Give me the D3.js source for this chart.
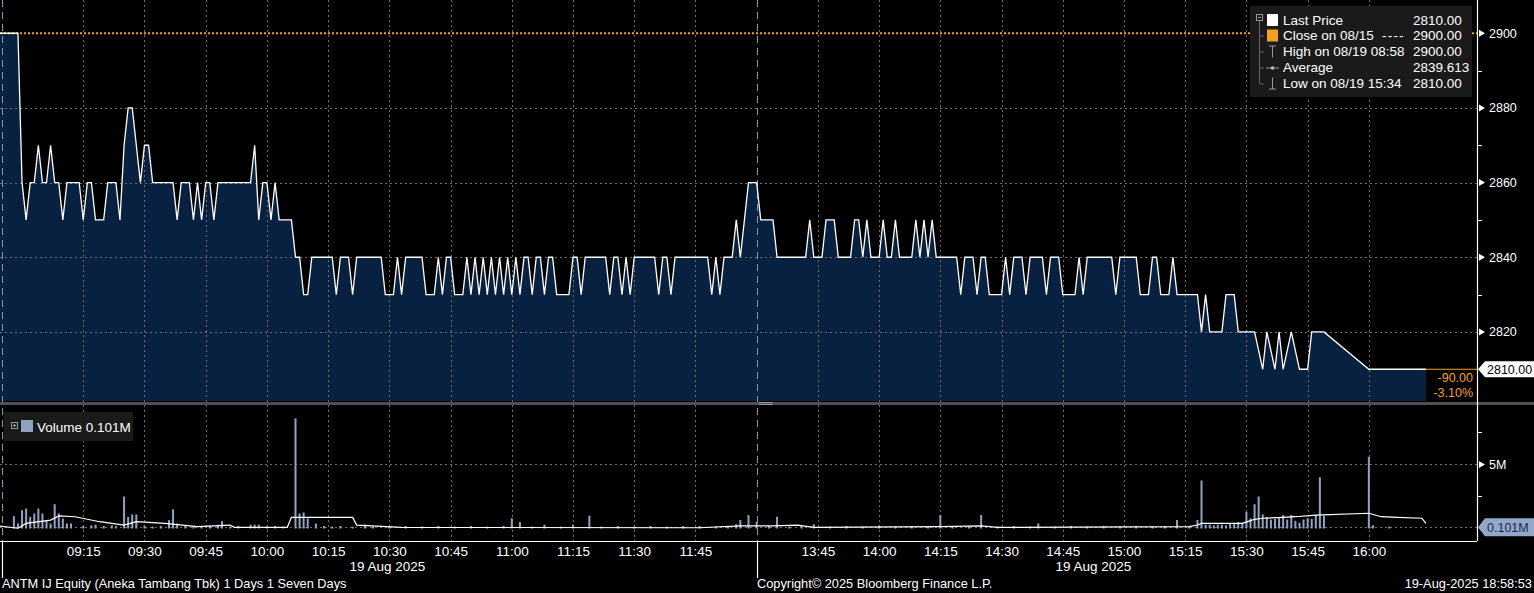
<!DOCTYPE html>
<html><head><meta charset="utf-8">
<script src="https://cdn.jsdelivr.net/npm/d3@7"></script>
<style>
body{margin:0;background:#000;overflow:hidden}
svg{display:block}
text{font-family:"Liberation Sans",Arial,sans-serif;fill:#fff}
</style></head>
<body><svg id="c" width="1534" height="593"></svg>
<script>
// ---------------- DATA ----------------
const timeTicks = ["09:15","09:30","09:45","10:00","10:15","10:30","10:45","11:00","11:15","11:30","11:45",
                   "13:45","14:00","14:15","14:30","14:45","15:00","15:15","15:30","15:45","16:00"];
const dateLabels = [["10:30","19 Aug 2025"],["14:53","19 Aug 2025"]];
const sessionBreaks = ["08:55","12:00"];
const priceTicks = [2820,2840,2860,2880,2900];
const priceMinorTicks = [2830,2850,2870,2890];
const volumeTicks = [5];
const volumeMinorTicks = [2.5,7.5];
const prevClose = 2900;
const lastPrice = 2810;
const lastVolume = 0.101;
const netChange = "-90.00";
const pctChange = "-3.10%";

// 1-minute price line vertices [time, price]
const priceSeries = [
["08:54",2900],["08:59",2900],["09:00",2860],["09:01",2850],["09:02",2860],["09:03",2860],["09:04",2870],
["09:05",2860],["09:06",2860],["09:07",2870],["09:08",2860],["09:09",2860],["09:10",2850],["09:11",2860],
["09:14",2860],["09:15",2850],["09:16",2860],["09:17",2860],["09:18",2850],["09:20",2850],["09:21",2860],
["09:23",2860],["09:24",2850],["09:25",2870],["09:26",2880],["09:27",2880],["09:28",2870],["09:29",2860],
["09:30",2870],["09:31",2870],["09:32",2860],["09:37",2860],["09:38",2850],["09:39",2860],["09:41",2860],
["09:42",2850],["09:43",2860],["09:44",2850],["09:45",2860],["09:46",2860],["09:47",2850],["09:48",2860],
["09:56",2860],["09:57",2870],["09:58",2850],["09:59",2860],["10:00",2860],["10:01",2850],["10:02",2860],
["10:03",2850],["10:06",2850],["10:07",2840],["10:08",2840],["10:09",2830],["10:10",2830],["10:11",2840],
["10:16",2840],["10:17",2830],["10:18",2840],["10:20",2840],["10:21",2830],["10:22",2840],["10:28",2840],
["10:29",2830],["10:31",2830],["10:32",2840],["10:33",2830],["10:34",2840],["10:38",2840],["10:39",2830],
["10:41",2830],["10:42",2840],["10:43",2830],["10:44",2840],["10:45",2840],["10:46",2830],["10:48",2830],
["10:49",2840],["10:50",2830],["10:51",2840],["10:52",2830],["10:53",2840],["10:54",2830],["10:55",2840],
["10:56",2830],["10:57",2840],["10:58",2830],["10:59",2840],["11:00",2830],["11:01",2840],["11:02",2830],
["11:03",2840],["11:04",2840],["11:05",2830],["11:06",2840],["11:07",2840],["11:08",2830],["11:09",2840],
["11:10",2840],["11:11",2830],["11:14",2830],["11:15",2840],["11:16",2840],["11:17",2830],["11:18",2840],
["11:23",2840],["11:24",2830],["11:25",2840],["11:26",2840],["11:27",2830],["11:28",2840],["11:29",2830],
["11:30",2840],["11:35",2840],["11:36",2830],["11:37",2840],["11:38",2840],["11:39",2830],["11:40",2840],
["11:48",2840],["11:49",2830],["11:50",2840],["11:51",2830],["11:52",2840],["11:54",2840],["11:55",2850],
["11:56",2840],["11:58",2860],["12:00",2860],
["13:31",2850],["13:34",2850],["13:35",2840],["13:42",2840],["13:43",2850],["13:44",2840],["13:46",2840],
["13:47",2850],["13:49",2850],["13:50",2840],["13:53",2840],["13:54",2850],["13:55",2850],["13:56",2840],
["13:57",2850],["13:58",2840],["14:00",2840],["14:01",2850],["14:02",2840],["14:03",2840],["14:04",2850],
["14:05",2840],["14:08",2840],["14:09",2850],["14:10",2840],["14:11",2850],["14:12",2840],["14:13",2850],
["14:14",2840],["14:19",2840],["14:20",2830],["14:21",2840],["14:23",2840],["14:24",2830],["14:25",2840],
["14:26",2840],["14:27",2830],["14:30",2830],["14:31",2840],["14:32",2830],["14:33",2840],["14:35",2840],
["14:36",2830],["14:37",2840],["14:40",2840],["14:41",2830],["14:42",2840],["14:44",2840],["14:45",2830],
["14:48",2830],["14:49",2840],["14:50",2830],["14:51",2840],["14:57",2840],["14:58",2830],["14:59",2840],
["15:03",2840],["15:04",2830],["15:06",2830],["15:07",2840],["15:08",2840],["15:09",2830],["15:11",2830],
["15:12",2840],["15:13",2830],["15:18",2830],["15:19",2820],["15:20",2830],["15:21",2820],["15:24",2820],
["15:25",2830],["15:27",2830],["15:28",2820],["15:32",2820],["15:34",2810],["15:35",2820],["15:37",2810],
["15:38",2820],["15:39",2810],["15:41",2820],["15:43",2810],["15:45",2810],["15:46",2820],["15:49",2820],
["16:00",2810],["16:14",2810]
];

// 1-minute volume bars [time, millions]
const volumeBars = [
["08:58",0.96],["08:59",0.39],["09:00",1.43],["09:01",1.56],["09:02",0.91],["09:03",1.17],["09:04",1.56],
["09:05",1.17],["09:06",0.65],["09:07",0.39],["09:08",1.9],["09:09",1.17],["09:10",0.78],["09:11",0.39],
["09:12",0.39],["09:15",0.2],["09:17",0.25],["09:18",0.3],["09:20",0.2],["09:22",0.25],["09:23",0.2],
["09:25",2.5],["09:26",0.9],["09:27",1.1],["09:28",1.1],["09:30",0.2],["09:32",0.15],["09:34",0.2],
["09:36",0.65],["09:37",1.5],["09:38",0.39],["09:40",0.2],["09:42",0.2],["09:44",0.15],["09:46",0.2],
["09:48",0.3],["09:49",0.57],["09:51",0.15],["09:53",0.2],["09:56",0.3],["09:57",0.3],["09:58",0.3],
["10:00",0.15],["10:02",0.2],["10:04",0.15],["10:07",8.6],["10:08",1.17],["10:09",1.25],["10:10",0.78],
["10:12",0.39],["10:14",0.2],["10:16",0.15],["10:18",0.2],["10:21",0.15],["10:24",0.3],["10:26",0.15],
["10:30",0.15],["10:34",0.2],["10:38",0.15],["10:42",0.2],["10:46",0.15],["10:50",0.2],["10:54",0.15],
["10:58",0.2],["11:00",0.8],["11:02",0.5],["11:05",0.15],["11:08",0.3],["11:12",0.15],["11:15",0.3],
["11:19",1.0],["11:22",0.15],["11:26",0.2],["11:30",0.15],["11:34",0.2],["11:38",0.15],["11:42",0.2],
["11:46",0.2],["11:50",0.15],["11:53",0.2],["11:55",0.33],["11:56",0.66],["11:58",1.05],["12:00",0.53],
["13:33",0.2],["13:35",0.92],["13:38",0.15],["13:41",0.2],["13:44",0.33],["13:48",0.15],["13:52",0.2],
["13:56",0.15],["14:00",0.2],["14:04",0.15],["14:08",0.2],["14:12",0.15],["14:15",1.05],["14:18",0.15],
["14:22",0.2],["14:25",1.05],["14:29",0.15],["14:33",0.2],["14:37",0.15],["14:39",0.4],["14:43",0.15],
["14:47",0.2],["14:51",0.15],["14:55",0.2],["14:59",0.15],["15:03",0.2],["15:07",0.15],["15:10",0.2],
["15:13",0.66],["15:16",0.2],["15:18",0.66],["15:19",3.75],["15:20",0.3],["15:21",0.3],["15:22",0.25],
["15:23",0.3],["15:24",0.3],["15:25",0.25],["15:26",0.35],["15:27",0.4],["15:28",0.5],["15:29",0.45],
["15:30",1.3],["15:31",0.8],["15:32",1.9],["15:33",2.5],["15:34",1.1],["15:35",0.9],["15:36",0.7],
["15:37",0.75],["15:38",0.8],["15:39",1.05],["15:40",0.7],["15:41",1.05],["15:42",0.6],["15:43",0.45],
["15:44",0.7],["15:45",0.8],["15:46",0.75],["15:47",1.05],["15:48",4.0],["15:49",1.0],["16:00",5.6],
["16:01",0.25],["16:05",0.15]
];

// moving-average volume line vertices [time, millions]
const volumeAvg = [
["08:54",0.2],["08:59",0.02],["09:01",0.4],["09:07",0.66],["09:09",0.98],["09:13",0.92],["09:19",0.53],
["09:25",0.27],["09:28",0.53],["09:35",0.4],["09:43",0.14],["09:51",0.27],["09:52",0.09],["10:05",0.09],
["10:06",0.87],["10:21",0.87],["10:22",0.27],["10:33",0.09],["11:46",0.06],["11:56",0.2],["13:34",0.2],
["13:40",0.27],["13:44",0.09],["14:15",0.14],["14:25",0.2],["14:29",0.09],["15:16",0.14],["15:18",0.27],
["15:19",0.4],["15:29",0.4],["15:31",0.61],["15:32",0.72],["15:34",0.8],["15:39",0.87],["15:42",0.92],
["15:47",1.05],["16:00",1.19],["16:03",0.92],["16:07",0.87],["16:13",0.8],["16:14",0.4]
];

const legendLabels = ["Last Price","Close on 08/15","High on 08/19 08:58","Average","Low on 08/19 15:34"];
const legendValues = ["2810.00","2900.00","2900.00","2839.613","2810.00"];
const footerLeft = "ANTM IJ Equity (Aneka Tambang Tbk) 1 Days 1 Seven Days";
const footerMid = "Copyright\u00a9 2025 Bloomberg Finance L.P.";
const footerRight = "19-Aug-2025 18:58:53";

// ---------------- LAYOUT ----------------
const PR = 1477, PB = 401, VT = 406, VB = 528.5, XA = 541;
const C_FILL = "#092140", C_GRID = "#6e6e6e", C_ORANGE = "#f5a020", C_VOL = "#8fa3c1";

function tm(s){const [h,m]=s.split(":").map(Number);const v=h*60+m;return v<=720?v-540:v-630;}

const svg = d3.select("#c");
const x = d3.scaleLinear().domain([-5.4,356.5]).range([0,PR]);
const yP = d3.scaleLinear().domain([2801.5,2908.9]).range([PB,0]);
const yV = d3.scaleLinear().domain([0,9.57]).range([VB,VT]);

const defs = svg.append("defs");
defs.append("clipPath").attr("id","cp").append("rect").attr("x",0).attr("y",0).attr("width",PR).attr("height",PB);
defs.append("clipPath").attr("id","cv").append("rect").attr("x",0).attr("y",VT).attr("width",PR).attr("height",XA-VT);

const P = priceSeries.map(d=>({t:tm(d[0]),p:d[1]}));

// area fill
svg.append("path").attr("clip-path","url(#cp)")
  .attr("d",d3.area().x(d=>x(d.t)).y0(PB).y1(d=>yP(d.p))(P))
  .attr("fill",C_FILL);

// gridlines
const gx = timeTicks.map(tm);
svg.append("g").selectAll("line").data(gx).join("line")
  .attr("x1",d=>Math.round(x(d))+0.5).attr("x2",d=>Math.round(x(d))+0.5)
  .attr("y1",0).attr("y2",XA)
  .attr("stroke",C_GRID).attr("stroke-width",1).attr("stroke-dasharray","2,3");
svg.append("g").selectAll("line").data(priceTicks.filter(v=>v!==prevClose)).join("line")
  .attr("x1",0).attr("x2",PR).attr("y1",d=>Math.round(yP(d))+0.5).attr("y2",d=>Math.round(yP(d))+0.5)
  .attr("stroke",C_GRID).attr("stroke-dasharray","2,3");
svg.append("g").selectAll("line").data([...volumeTicks,lastVolume]).join("line")
  .attr("x1",0).attr("x2",PR).attr("y1",d=>Math.round(yV(d))+0.5).attr("y2",d=>Math.round(yV(d))+0.5)
  .attr("stroke",C_GRID).attr("stroke-dasharray","2,3");

// session separators
const sb = sessionBreaks.map(tm);
svg.append("g").selectAll("line").data(sb).join("line")
  .attr("x1",d=>Math.round(x(d))+0.5).attr("x2",d=>Math.round(x(d))+0.5)
  .attr("y1",0).attr("y2",XA)
  .attr("stroke","#8898ad").attr("stroke-dasharray","7,5");
svg.append("g").selectAll("line").data(sb).join("line")
  .attr("x1",d=>Math.round(x(d))+0.5).attr("x2",d=>Math.round(x(d))+0.5)
  .attr("y1",XA).attr("y2",578)
  .attr("stroke","#fff").attr("stroke-width",1.2);

// previous close line
svg.append("line").attr("x1",0).attr("x2",PR).attr("y1",yP(prevClose)).attr("y2",yP(prevClose))
  .attr("stroke",C_ORANGE).attr("stroke-width",2).attr("stroke-dasharray","2,2");

// price line
svg.append("path").attr("clip-path","url(#cp)")
  .attr("d",d3.line().x(d=>x(d.t)).y(d=>yP(d.p))(P))
  .attr("fill","none").attr("stroke","#fff").attr("stroke-width",1.3);

// last price orange line
const lastT = P[P.length-1].t;
svg.append("line").attr("x1",x(lastT)).attr("x2",PR).attr("y1",yP(lastPrice)).attr("y2",yP(lastPrice))
  .attr("stroke",C_ORANGE).attr("stroke-width",1);
svg.append("text").attr("x",PR-4).attr("y",yP(lastPrice)+13).attr("text-anchor","end")
  .style("fill",C_ORANGE).style("font-size","12.5px").text(netChange);
svg.append("text").attr("x",PR-4).attr("y",yP(lastPrice)+28).attr("text-anchor","end")
  .style("fill",C_ORANGE).style("font-size","12.5px").text(pctChange);

// panel separator
svg.append("rect").attr("x",0).attr("y",402).attr("width",1534).attr("height",3).attr("fill","#505050");
svg.append("line").attr("x1",759).attr("x2",773).attr("y1",402.5).attr("y2",402.5).attr("stroke","#999");
svg.append("line").attr("x1",759).attr("x2",773).attr("y1",404.5).attr("y2",404.5).attr("stroke","#999");

// volume bars
svg.append("g").attr("clip-path","url(#cv)").selectAll("rect").data(volumeBars).join("rect")
  .attr("x",d=>x(tm(d[0]))-1).attr("width",2)
  .attr("y",d=>yV(d[1])).attr("height",d=>yV(0)-yV(d[1]))
  .attr("fill",C_VOL);
svg.append("path").attr("clip-path","url(#cv)")
  .attr("d",d3.line().x(d=>x(tm(d[0]))).y(d=>yV(d[1]))(volumeAvg))
  .attr("fill","none").attr("stroke","#fff").attr("stroke-width",1.2);

// axes lines
svg.append("line").attr("x1",PR+0.5).attr("x2",PR+0.5).attr("y1",0).attr("y2",XA).attr("stroke","#fff").attr("stroke-width",1.2);
svg.append("line").attr("x1",0).attr("x2",PR).attr("y1",XA+0.5).attr("y2",XA+0.5).attr("stroke","#fff").attr("stroke-width",1.2);

// x axis labels
const xAxis = d3.axisBottom(x).tickValues(gx).tickSize(0).tickPadding(0).tickFormat((d,i)=>timeTicks[i]);
const gxa = svg.append("g").attr("transform",`translate(0,${XA+1})`).call(xAxis);
gxa.select(".domain").remove();
gxa.selectAll("text").attr("dy","0").attr("y",14).style("font-size","13.5px").style("fill","#fff").style("font-family",null);
svg.append("g").selectAll("text").data(dateLabels).join("text")
  .attr("x",d=>x(tm(d[0]))-2).attr("y",571).attr("text-anchor","middle").style("font-size","13.5px").text(d=>d[1]);

// right price axis
const yAxis = d3.axisRight(yP).tickValues(priceTicks).tickSize(0).tickPadding(12).tickFormat(d3.format("d"));
const gya = svg.append("g").attr("transform",`translate(${PR},0)`).call(yAxis);
gya.select(".domain").remove();
gya.selectAll("text").style("font-size","12.5px").style("fill","#fff").style("font-family",null);
svg.append("g").selectAll("path").data(priceTicks).join("path")
  .attr("d",d=>{const y=yP(d);return `M${PR+2},${y-3.5}L${PR+8},${y}L${PR+2},${y+3.5}Z`;}).attr("fill","#fff");
svg.append("g").selectAll("line").data(priceMinorTicks).join("line")
  .attr("x1",PR).attr("x2",PR+5).attr("y1",d=>Math.round(yP(d))+0.5).attr("y2",d=>Math.round(yP(d))+0.5).attr("stroke","#fff");

// right volume axis
const vAxis = d3.axisRight(yV).tickValues(volumeTicks).tickSize(0).tickPadding(12).tickFormat(d=>d+"M");
const gva = svg.append("g").attr("transform",`translate(${PR},0)`).call(vAxis);
gva.select(".domain").remove();
gva.selectAll("text").style("font-size","12.5px").style("fill","#fff").style("font-family",null);
svg.append("g").selectAll("path").data(volumeTicks).join("path")
  .attr("d",d=>{const y=yV(d);return `M${PR+2},${y-3.5}L${PR+8},${y}L${PR+2},${y+3.5}Z`;}).attr("fill","#fff");
svg.append("g").selectAll("line").data(volumeMinorTicks).join("line")
  .attr("x1",PR).attr("x2",PR+5).attr("y1",d=>Math.round(yV(d))+0.5).attr("y2",d=>Math.round(yV(d))+0.5).attr("stroke","#fff");

// last price tag
{const y=yP(lastPrice);
 svg.append("path").attr("d",`M${PR+1},${y}L${PR+8},${y-8}H1534V${y+8}H${PR+8}Z`).attr("fill","#fff");
 svg.append("text").attr("x",PR+10).attr("y",y+4.5).style("fill","#000").style("font-size","12.5px").text(lastPrice.toFixed(2));}
// last volume tag
{const y=yV(lastVolume);
 svg.append("path").attr("d",`M${PR+1},${y}L${PR+8},${y-9}H1534V${y+9}H${PR+8}Z`).attr("fill","#93a8c8");
 svg.append("text").attr("x",PR+10).attr("y",y+5).style("fill","#1a2b4c").style("font-size","12.5px").text(lastVolume+"M");}

// legend (price)
const lg = svg.append("g");
lg.append("rect").attr("x",1250).attr("y",6).attr("width",222).attr("height",91).attr("fill","#1a1a1a");
const rowY = [20,35.5,51.5,67.5,83.5];
lg.append("rect").attr("x",1256.5).attr("y",14.5).attr("width",6).attr("height",6).attr("fill","none").attr("stroke","#999");
lg.append("line").attr("x1",1258).attr("x2",1261).attr("y1",17.5).attr("y2",17.5).attr("stroke","#999");
lg.append("line").attr("x1",1259.5).attr("x2",1259.5).attr("y1",21).attr("y2",rowY[4]).attr("stroke","#666");
rowY.slice(1).forEach(y=>lg.append("line").attr("x1",1259.5).attr("x2",1264).attr("y1",y+0.5).attr("y2",y+0.5).attr("stroke","#666"));
lg.append("rect").attr("x",1267).attr("y",rowY[0]-6).attr("width",11).attr("height",12).attr("fill","#fff");
lg.append("rect").attr("x",1267).attr("y",rowY[1]-6).attr("width",11).attr("height",12).attr("fill",C_ORANGE);
// high icon
lg.append("line").attr("x1",1269).attr("x2",1276).attr("y1",rowY[2]-5.5).attr("y2",rowY[2]-5.5).attr("stroke","#999");
lg.append("line").attr("x1",1272.5).attr("x2",1272.5).attr("y1",rowY[2]-5.5).attr("y2",rowY[2]+6).attr("stroke","#999");
// average icon
lg.append("line").attr("x1",1266).attr("x2",1279).attr("y1",rowY[3]+0.5).attr("y2",rowY[3]+0.5).attr("stroke","#999");
lg.append("circle").attr("cx",1272.5).attr("cy",rowY[3]+0.5).attr("r",1.8).attr("fill","#bbb");
// low icon
lg.append("line").attr("x1",1269).attr("x2",1276).attr("y1",rowY[4]+5.5).attr("y2",rowY[4]+5.5).attr("stroke","#999");
lg.append("line").attr("x1",1272.5).attr("x2",1272.5).attr("y1",rowY[4]-6).attr("y2",rowY[4]+5.5).attr("stroke","#999");
lg.selectAll("text.l").data(legendLabels).join("text").attr("class","l")
  .attr("x",1283).attr("y",(d,i)=>rowY[i]+4.5).style("font-size","13.5px").text(d=>d);
lg.append("text").attr("x",1382).attr("y",rowY[1]+4.5).style("font-size","13.5px").attr("letter-spacing","1.2px").text("----");
lg.selectAll("text.v").data(legendValues).join("text").attr("class","v")
  .attr("x",1413).attr("y",(d,i)=>rowY[i]+4.5).style("font-size","13.5px").text(d=>d);

// legend (volume)
const vl = svg.append("g");
vl.append("rect").attr("x",4).attr("y",412).attr("width",129).attr("height",29).attr("fill","#1a1a1a");
vl.append("rect").attr("x",11.5).attr("y",422.5).attr("width",6).attr("height",6).attr("fill","none").attr("stroke","#999");
vl.append("line").attr("x1",13).attr("x2",16).attr("y1",425.5).attr("y2",425.5).attr("stroke","#999");
vl.append("line").attr("x1",14.5).attr("x2",14.5).attr("y1",424).attr("y2",427).attr("stroke","#999");
vl.append("rect").attr("x",21).attr("y",420).attr("width",12).attr("height",12).attr("fill",C_VOL);
vl.append("text").attr("x",37).attr("y",431.5).style("font-size","13.5px").text("Volume "+lastVolume+"M");

// footer
svg.append("text").attr("x",2).attr("y",588).style("font-size","12.8px").text(footerLeft);
svg.append("text").attr("x",757).attr("y",588).style("font-size","12.8px").text(footerMid);
svg.append("text").attr("x",1532).attr("y",588).attr("text-anchor","end").style("font-size","12.8px").text(footerRight);
</script></body></html>
